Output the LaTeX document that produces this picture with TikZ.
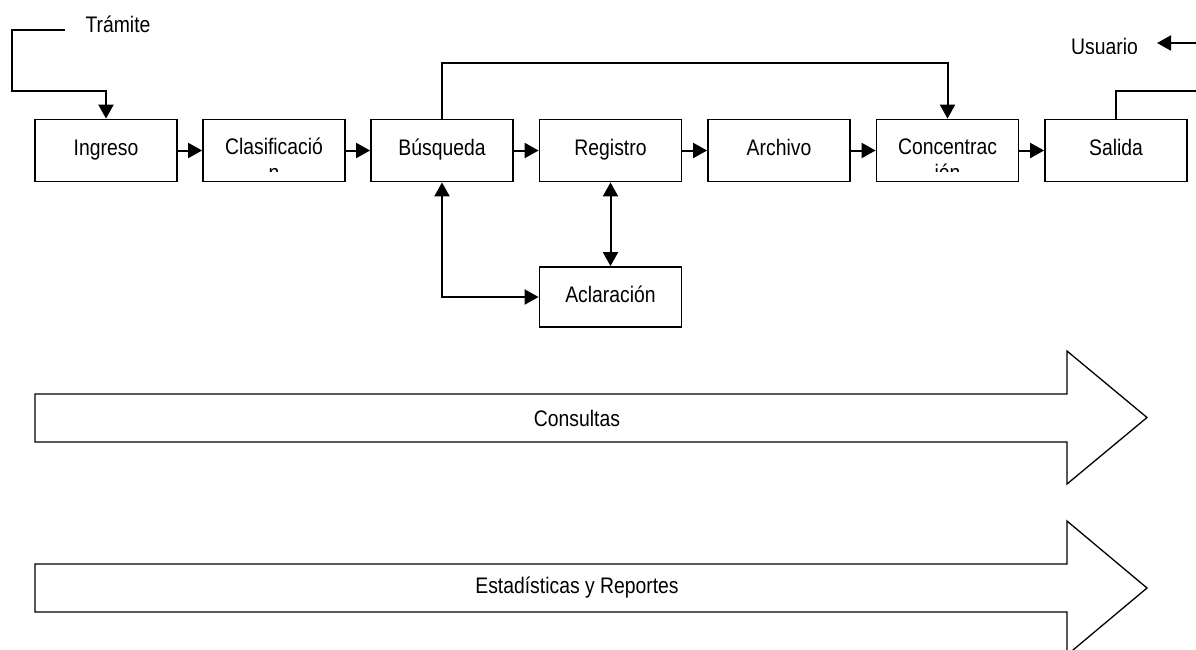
\documentclass[tikz,border=0pt]{standalone}
\usepackage{fontspec}
\setmainfont{Liberation Sans}[FakeStretch=0.86]
\usetikzlibrary{arrows.meta}

\begin{document}
\begin{tikzpicture}[x=1pt, y=-1pt,
  stagebox/.style={draw, line width=1.8pt, fill=white, minimum width=142pt, minimum height=62pt, inner sep=0pt},
  lbl/.style={inner sep=0pt, anchor=base, font=\fontsize{22.5}{25}\selectfont},
  conn/.style={line width=2pt, -{Triangle[length=14pt,width=15pt]}},
  both/.style={line width=2pt, {Triangle[length=14pt,width=15pt]}-{Triangle[length=14pt,width=15pt]}},
  plain/.style={line width=2pt},
  bigarrow/.style={draw, line width=1.3pt, fill=white, line join=miter}
]
\useasboundingbox (0,0) rectangle (1196,649);
\clip (0,0) rectangle (1196,649);

% main row of stages
\node[stagebox] (ing) at (106,150.5) {};
\node[stagebox] (cla) at (274,150.5) {};
\node[stagebox] (bus) at (442,150.5) {};
\node[stagebox] (reg) at (610.5,150.5) {};
\node[stagebox] (arc) at (779,150.5) {};
\node[stagebox] (con) at (947.5,150.5) {};
\node[stagebox] (sal) at (1116,150.5) {};
\node[stagebox, minimum height=60pt] (acl) at (610.5,297) {};

% labels of the stages
\node[lbl] (ingT) at (106,155) {Ingreso};
\node[lbl] (busT) at (442,155) {Búsqueda};
\node[lbl] (regT) at (610.5,155) {Registro};
\node[lbl] (arcT) at (779,155) {Archivo};
\node[lbl] (salT) at (1116,155) {Salida};
\node[lbl] (aclT) at (610.5,302) {Aclaración};
\begin{scope}
  \clip (cla.north west) rectangle ([yshift=10.5pt]cla.south east);
  \node[lbl] (claT) at (274,154) {Clasificació};
  \node[lbl] (claT2) at (274,180) {n};
\end{scope}
\begin{scope}
  \clip (con.north west) rectangle ([yshift=10.5pt]con.south east);
  \node[lbl] (conT) at (947.5,154) {Concentrac};
  \node[lbl] (conT2) at (947.5,180) {ión};
\end{scope}

% outside texts
\node[lbl] (tra) at (118,32) {Trámite};
\begin{scope}
  \clip (1060,25) rectangle (1150,53);
  \node[lbl] (usr) at (1104.5,54) {Usuario};
\end{scope}

% flow between stages
\draw[conn] (ing) -- (cla);
\draw[conn] (cla) -- (bus);
\draw[conn] (bus) -- (reg);
\draw[conn] (reg) -- (arc);
\draw[conn] (arc) -- (con);
\draw[conn] (con) -- (sal);

% incoming procedure
\coordinate (traIn) at (65,30);
\draw[conn] (traIn) -- (12,30) -- (12,91) -| (ing.north);

% shortcut from search to concentration
\draw[conn] (bus.north) -- (bus.north |- 0,63) -| (con.north);

% clarification loops
\draw[both] (bus.south) |- (acl.west);
\draw[both] (reg.south) -- (acl.north);

% output towards the user
\coordinate (salOut) at (1196,91);
\draw[plain] (sal.north) |- (salOut);
\coordinate (usrIn) at (1196,43);
\coordinate (usrTip) at (1157,43);
\draw[conn] (usrIn) -- (usrTip);

% broad arrows
\draw[bigarrow] (35,394) -- (1067,394) -- (1067,351) -- (1147,417.5) -- (1067,484) -- (1067,442) -- (35,442) -- cycle;
\node[lbl, anchor=center] (cons) at (577,418) {Consultas};
\draw[bigarrow] (35,564) -- (1067,564) -- (1067,521) -- (1147,588) -- (1067,655) -- (1067,612) -- (35,612) -- cycle;
\node[lbl, anchor=center] (est) at (577,588) {Estadísticas y Reportes};
\end{tikzpicture}
\end{document}
